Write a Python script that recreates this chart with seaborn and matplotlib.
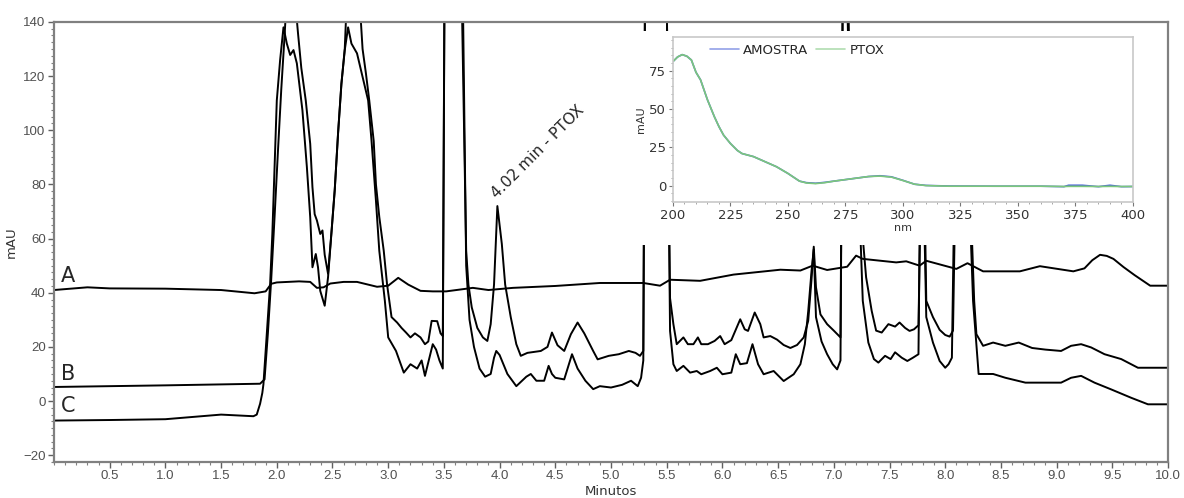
import pandas as pd
import matplotlib.pyplot as plt
import seaborn as sns
from matplotlib.patches import Rectangle
from matplotlib.ticker import MultipleLocator

# chromatogram traces (minutes, mAU)
a_x = [0, 0.3, 0.5, 1.0, 1.5, 1.8, 1.9, 1.95, 2.0, 2.2, 2.3, 2.36, 2.42, 2.48, 2.6, 2.72, 2.9,
       3.0, 3.09, 3.18, 3.29, 3.4, 3.52, 3.76, 3.9, 4.12, 4.5, 4.9, 5.29, 5.44, 5.53, 5.8, 6.1,
       6.52, 6.7, 6.81, 6.94, 7.12, 7.2, 7.26, 7.56, 7.65, 7.77, 7.83, 8.1, 8.2, 8.34, 8.67,
       8.85, 9.15, 9.25, 9.32, 9.39, 9.45, 9.51, 9.6, 9.7, 9.84, 10.0]
a_y = [41, 42, 41.6, 41.5, 41, 39.8, 40.5, 43.3, 43.8, 44.2, 44, 41.8, 42, 43.4, 44, 44, 42.2,
       42.6, 45.5, 43, 40.7, 40.5, 40.5, 41.8, 41, 41.8, 42.5, 43.6, 43.6, 42.6, 44.8, 44.4, 46.7,
       48.5, 48.2, 50, 48.4, 49.6, 53.7, 52.5, 51.2, 51.6, 50, 51.8, 48.8, 50.9, 47.9, 47.9,
       49.8, 47.9, 49, 52, 54, 53.6, 52.5, 49.5, 46.5, 42.6, 42.6]

b_x = [0, 1.0, 1.85, 1.89, 1.92, 1.95, 1.98, 2.01, 2.04, 2.07, 2.09, 2.16, 2.19, 2.22, 2.26,
       2.3, 2.32, 2.34, 2.36, 2.39, 2.41, 2.43, 2.46, 2.49, 2.52, 2.55, 2.58, 2.61, 2.63, 2.74,
       2.77, 2.8, 2.83, 2.87, 2.89, 2.92, 2.96, 2.99, 3.03, 3.08, 3.12, 3.16, 3.2, 3.24, 3.29,
       3.33, 3.36, 3.39, 3.44, 3.47, 3.49, 3.505, 3.66, 3.7, 3.72, 3.75, 3.8, 3.85, 3.89, 3.92,
       3.95, 3.98, 4.0, 4.02, 4.05, 4.1, 4.15, 4.19, 4.25, 4.37, 4.43, 4.47, 4.52, 4.58, 4.64,
       4.7, 4.76, 4.84, 4.88, 4.98, 5.07, 5.16, 5.22, 5.26, 5.29, 5.305, 5.5, 5.53, 5.56, 5.59,
       5.65, 5.69, 5.74, 5.78, 5.81, 5.87, 5.93, 5.98, 6.02, 6.08, 6.16, 6.2, 6.23, 6.29, 6.34,
       6.37, 6.43, 6.49, 6.55, 6.61, 6.67, 6.73, 6.77, 6.8, 6.82, 6.84, 6.88, 6.94, 7.0, 7.06,
       7.08, 7.13, 7.16, 7.2, 7.24, 7.29, 7.34, 7.38, 7.43, 7.49, 7.55, 7.59, 7.64, 7.68, 7.72,
       7.76, 7.79, 7.81, 7.83, 7.89, 7.95, 8.0, 8.04, 8.07, 8.1, 8.13, 8.17, 8.21, 8.24, 8.26,
       8.28, 8.34, 8.43, 8.54, 8.66, 8.78, 8.9, 9.04, 9.13, 9.22, 9.31, 9.43, 9.58, 9.73, 9.85,
       10.0]
b_y = [5.2, 5.8, 6.4, 8, 25, 45, 68, 92, 115, 135, 150, 150, 136, 123, 111,
       95, 79, 69, 66.7, 61.7, 63, 54, 47, 62, 78, 99, 117, 130, 150, 150,
       130, 121, 111, 96, 80, 68, 55.5, 43, 31, 29, 27, 25.3, 23.5, 25, 23.5,
       21, 22, 29.6, 29.5, 25, 24, 150, 150, 55.5, 43, 34.6, 27, 23.5, 22.2, 28.4,
       43, 72, 65, 58, 43, 31, 21, 16.7, 17.8, 18.5, 20, 25.3, 20.6, 18.5, 24.7,
       29, 25, 18.5, 15.4, 16.7, 17.3, 18.5, 17.8, 16.7, 18.5, 150, 150, 38, 28.4, 21,
       23.5, 21, 21, 23.5, 21, 21, 22.2, 24, 21, 22.5, 30.2, 26.5, 25.9, 32.7, 28.4,
       23.5, 24, 22.7, 20.7, 19.6, 20.7, 23.5, 29.6, 45, 57, 42, 32, 28.4, 26, 23.5,
       150, 150, 70, 78, 70, 45.7, 33.3, 26, 25.3, 28.4, 27.5, 29, 27, 25.9, 26.5,
       28, 100, 90, 37, 31, 26.3, 24.4, 23.8, 26, 100, 85, 75, 100, 60, 37,
       24.7, 20.4, 21.6, 20.4, 21.6, 19.6, 19, 18.5, 20.4, 21, 19.8, 17.3, 15.5, 12.3, 12.3,
       12.3]

c_x = [0, 0.5, 1.0, 1.5, 1.79, 1.82, 1.85, 1.87, 1.88, 1.91, 1.94, 1.96, 1.98, 2.0, 2.03,
       2.06, 2.09, 2.12, 2.15, 2.18, 2.23, 2.27, 2.3, 2.32, 2.35, 2.37, 2.39, 2.43, 2.46, 2.49,
       2.52, 2.55, 2.58, 2.61, 2.64, 2.67, 2.72, 2.77, 2.82, 2.85, 2.89, 2.92, 2.97, 3.0, 3.07,
       3.14, 3.2, 3.26, 3.3, 3.33, 3.4, 3.43, 3.46, 3.49, 3.505, 3.67, 3.7, 3.73, 3.77, 3.82,
       3.87, 3.92, 3.95, 3.97, 4.0, 4.07, 4.15, 4.24, 4.28, 4.33, 4.4, 4.44, 4.47, 4.5, 4.58,
       4.65, 4.7, 4.77, 4.84, 4.9, 5.0, 5.1, 5.18, 5.24, 5.27, 5.29, 5.305, 5.5, 5.53, 5.56,
       5.59, 5.65, 5.71, 5.77, 5.81, 5.89, 5.95, 6.0, 6.08, 6.12, 6.16, 6.22, 6.27, 6.32, 6.37,
       6.46, 6.55, 6.64, 6.7, 6.74, 6.77, 6.8, 6.82, 6.84, 6.89, 6.94, 6.99, 7.03, 7.06, 7.08,
       7.12, 7.16, 7.2, 7.24, 7.26, 7.31, 7.36, 7.4, 7.46, 7.51, 7.55, 7.61, 7.66, 7.71, 7.76,
       7.78, 7.8, 7.83, 7.89, 7.95, 8.0, 8.03, 8.06, 8.09, 8.12, 8.17, 8.2, 8.23, 8.25, 8.3,
       8.43, 8.54, 8.72, 8.9, 9.04, 9.13, 9.22, 9.34, 9.49, 9.67, 9.82, 10.0]
c_y = [-7.2, -7, -6.7, -5, -5.6, -5, -1, 3, 6.2, 24.7, 43.2, 61.7, 86.4, 111, 126,
       138, 132, 127.8, 129.6, 124.7, 107.4, 86.4, 67.9, 49.4, 54.3, 49.4, 40.7, 35.2, 45.7, 61.7,
       77.8, 98.8, 117.3, 129.6, 138, 132, 128.4, 119.7, 111, 96.3, 74, 55.5, 37, 23.5, 18.5,
       10.5, 13.6, 12, 15, 9.3, 21, 19, 15, 12, 150, 150, 50, 30, 20, 12,
       9, 10, 16, 18.5, 17, 10, 5.5, 9, 10, 7.5, 7.5, 13, 10, 8.6, 8,
       17.3, 12, 7.5, 4.4, 5.5, 5, 6, 7.5, 5.5, 8.6, 15, 150, 150, 25.9, 13.6,
       11.1, 13, 10.5, 11.1, 9.9, 11.1, 12.3, 9.9, 10.5, 17.3, 13.6, 14, 21, 13.6, 9.9,
       11.1, 7.4, 9.9, 13.6, 21, 33, 48, 56, 31, 22, 17.3, 13.6, 11.7, 15, 150,
       150, 70, 75, 60, 37, 21.6, 15.5, 14.2, 16.7, 15.5, 18, 16, 14.8, 16, 17.3,
       100, 90, 31, 21.6, 14.8, 12.3, 13.6, 16, 100, 85, 75, 100, 60, 37, 10,
       10, 8.6, 6.8, 6.8, 6.8, 8.6, 9.3, 6.8, 4.3, 1.2, -1.2, -1.2]

# UV spectrum of the 4.02 min peak (nm, mAU)
nm = [200, 202, 204, 206, 208, 210, 212, 215, 218, 220, 222, 225, 228, 230, 235, 240, 245,
      250, 255, 258, 262, 266, 270, 275, 280, 285, 290, 295, 300, 305, 310, 320, 340, 360,
      370, 372, 378, 385, 390, 395, 400]
amostra = [81, 84, 85.5, 84.5, 82, 74, 69, 56, 45, 38.5, 33, 27.5, 23, 21, 19, 15.7, 12.4,
           8, 3, 2, 1.6, 2.2, 3, 4, 5, 6, 6.5, 5.8, 3.5, 1, 0.2, -0.2, -0.3, -0.3,
           -0.6, 0.3, 0.3, -0.6, 0.3, -0.6, -0.5]
ptox = [81, 84, 85.5, 84.5, 82, 74, 69, 56, 45, 38.5, 33, 27.5, 23, 21, 19, 15.7, 12.4,
        8, 3, 1.8, 1.4, 2, 3, 4, 5, 6, 6.3, 5.6, 3.4, 1, 0.1, -0.3, -0.3, -0.3,
        -0.5, -0.4, -0.4, -0.5, -0.4, -0.5, -0.5]

sns.set_style("ticks")
plt.rcParams['font.family'] = ['DejaVu Sans']

chrom = pd.concat([
    pd.DataFrame({'min': a_x, 'mAU': a_y, 'trace': 'A'}),
    pd.DataFrame({'min': b_x, 'mAU': b_y, 'trace': 'B'}),
    pd.DataFrame({'min': c_x, 'mAU': c_y, 'trace': 'C'}),
])
spec = pd.concat([
    pd.DataFrame({'nm': nm, 'mAU': amostra, 'amostra': 'AMOSTRA'}),
    pd.DataFrame({'nm': nm, 'mAU': ptox, 'amostra': 'PTOX'}),
])

fig = plt.figure(figsize=(11.84, 4.98), dpi=100)
ax = fig.add_axes([0.0456, 0.0723, 0.9409, 0.8837])

sns.lineplot(data=chrom, x='min', y='mAU', hue='trace', palette={'A': 'k', 'B': 'k', 'C': 'k'},
             estimator=None, sort=False, legend=False, lw=1.4, ax=ax)
ax.set_xlim(0, 10)
ax.set_ylim(-22.5, 140)
ax.xaxis.set_minor_locator(MultipleLocator(0.1))
ax.yaxis.set_minor_locator(MultipleLocator(2.5))
ax.set_xticks([x / 2 for x in range(1, 21)])
ax.set_yticks(range(-20, 141, 20))
for s in ax.spines.values():
    s.set_color('#808080')
    s.set_linewidth(1.6)
ax.tick_params(which='major', length=4, width=1, color='#606060', labelsize=9.5,
               labelcolor='#505050', pad=2)
ax.tick_params(which='minor', length=2, width=0.8, color='#808080')
for lab in ax.get_xticklabels() + ax.get_yticklabels():
    lab.set_family('Liberation Sans')
ax.set_xlabel('Minutos', fontsize=9.5, labelpad=2, color='#333333')
ax.set_ylabel('mAU', fontsize=9.5, labelpad=4, color='#333333')

# trace letters and peak note
ax.text(0.06, 46, 'A', fontsize=15, ha='left', va='center')
ax.text(0.06, 10, 'B', fontsize=15, ha='left', va='center')
ax.text(0.06, -2, 'C', fontsize=15, ha='left', va='center')
ax.text(3.98, 74.5, '4.02 min - PTOX', fontsize=11.2, rotation=45,
        rotation_mode='anchor', ha='left', va='baseline')

# white patch behind the inset
ax.add_patch(Rectangle((5.15, 57.5), 4.85, 79, facecolor='white', edgecolor='none', zorder=2.2))

ins = fig.add_axes([0.5684, 0.5944, 0.3885, 0.3313])
sns.lineplot(data=spec, x='nm', y='mAU', hue='amostra',
             palette={'AMOSTRA': '#4a63d8', 'PTOX': '#7cc77c'}, lw=1.2, ax=ins)
ins.set_xlim(200, 400)
ins.set_ylim(-10.6, 97)
ins.set_xticks(range(200, 401, 25))
ins.set_yticks([0, 25, 50, 75])
ins.xaxis.set_minor_locator(MultipleLocator(5))
ins.yaxis.set_minor_locator(MultipleLocator(5))
for s in ins.spines.values():
    s.set_color('#c8c8c8')
    s.set_linewidth(1.2)
ins.tick_params(which='major', length=3, color='#777777', labelsize=9.5, labelcolor='#333333', pad=2)
ins.tick_params(which='minor', length=1.5, color='#999999')
ins.set_xlabel('nm', fontsize=8, labelpad=1, color='#333333')
ins.set_ylabel('mAU', fontsize=8, labelpad=2, color='#333333')
leg = ins.legend(loc='upper center', bbox_to_anchor=(0.27, 1.03), ncol=2, frameon=False,
                 fontsize=9.5, handlelength=2.2, handletextpad=0.3, columnspacing=0.6)
for line in leg.get_lines():
    line.set_alpha(0.6)

fig.savefig('out.png', dpi=100)
